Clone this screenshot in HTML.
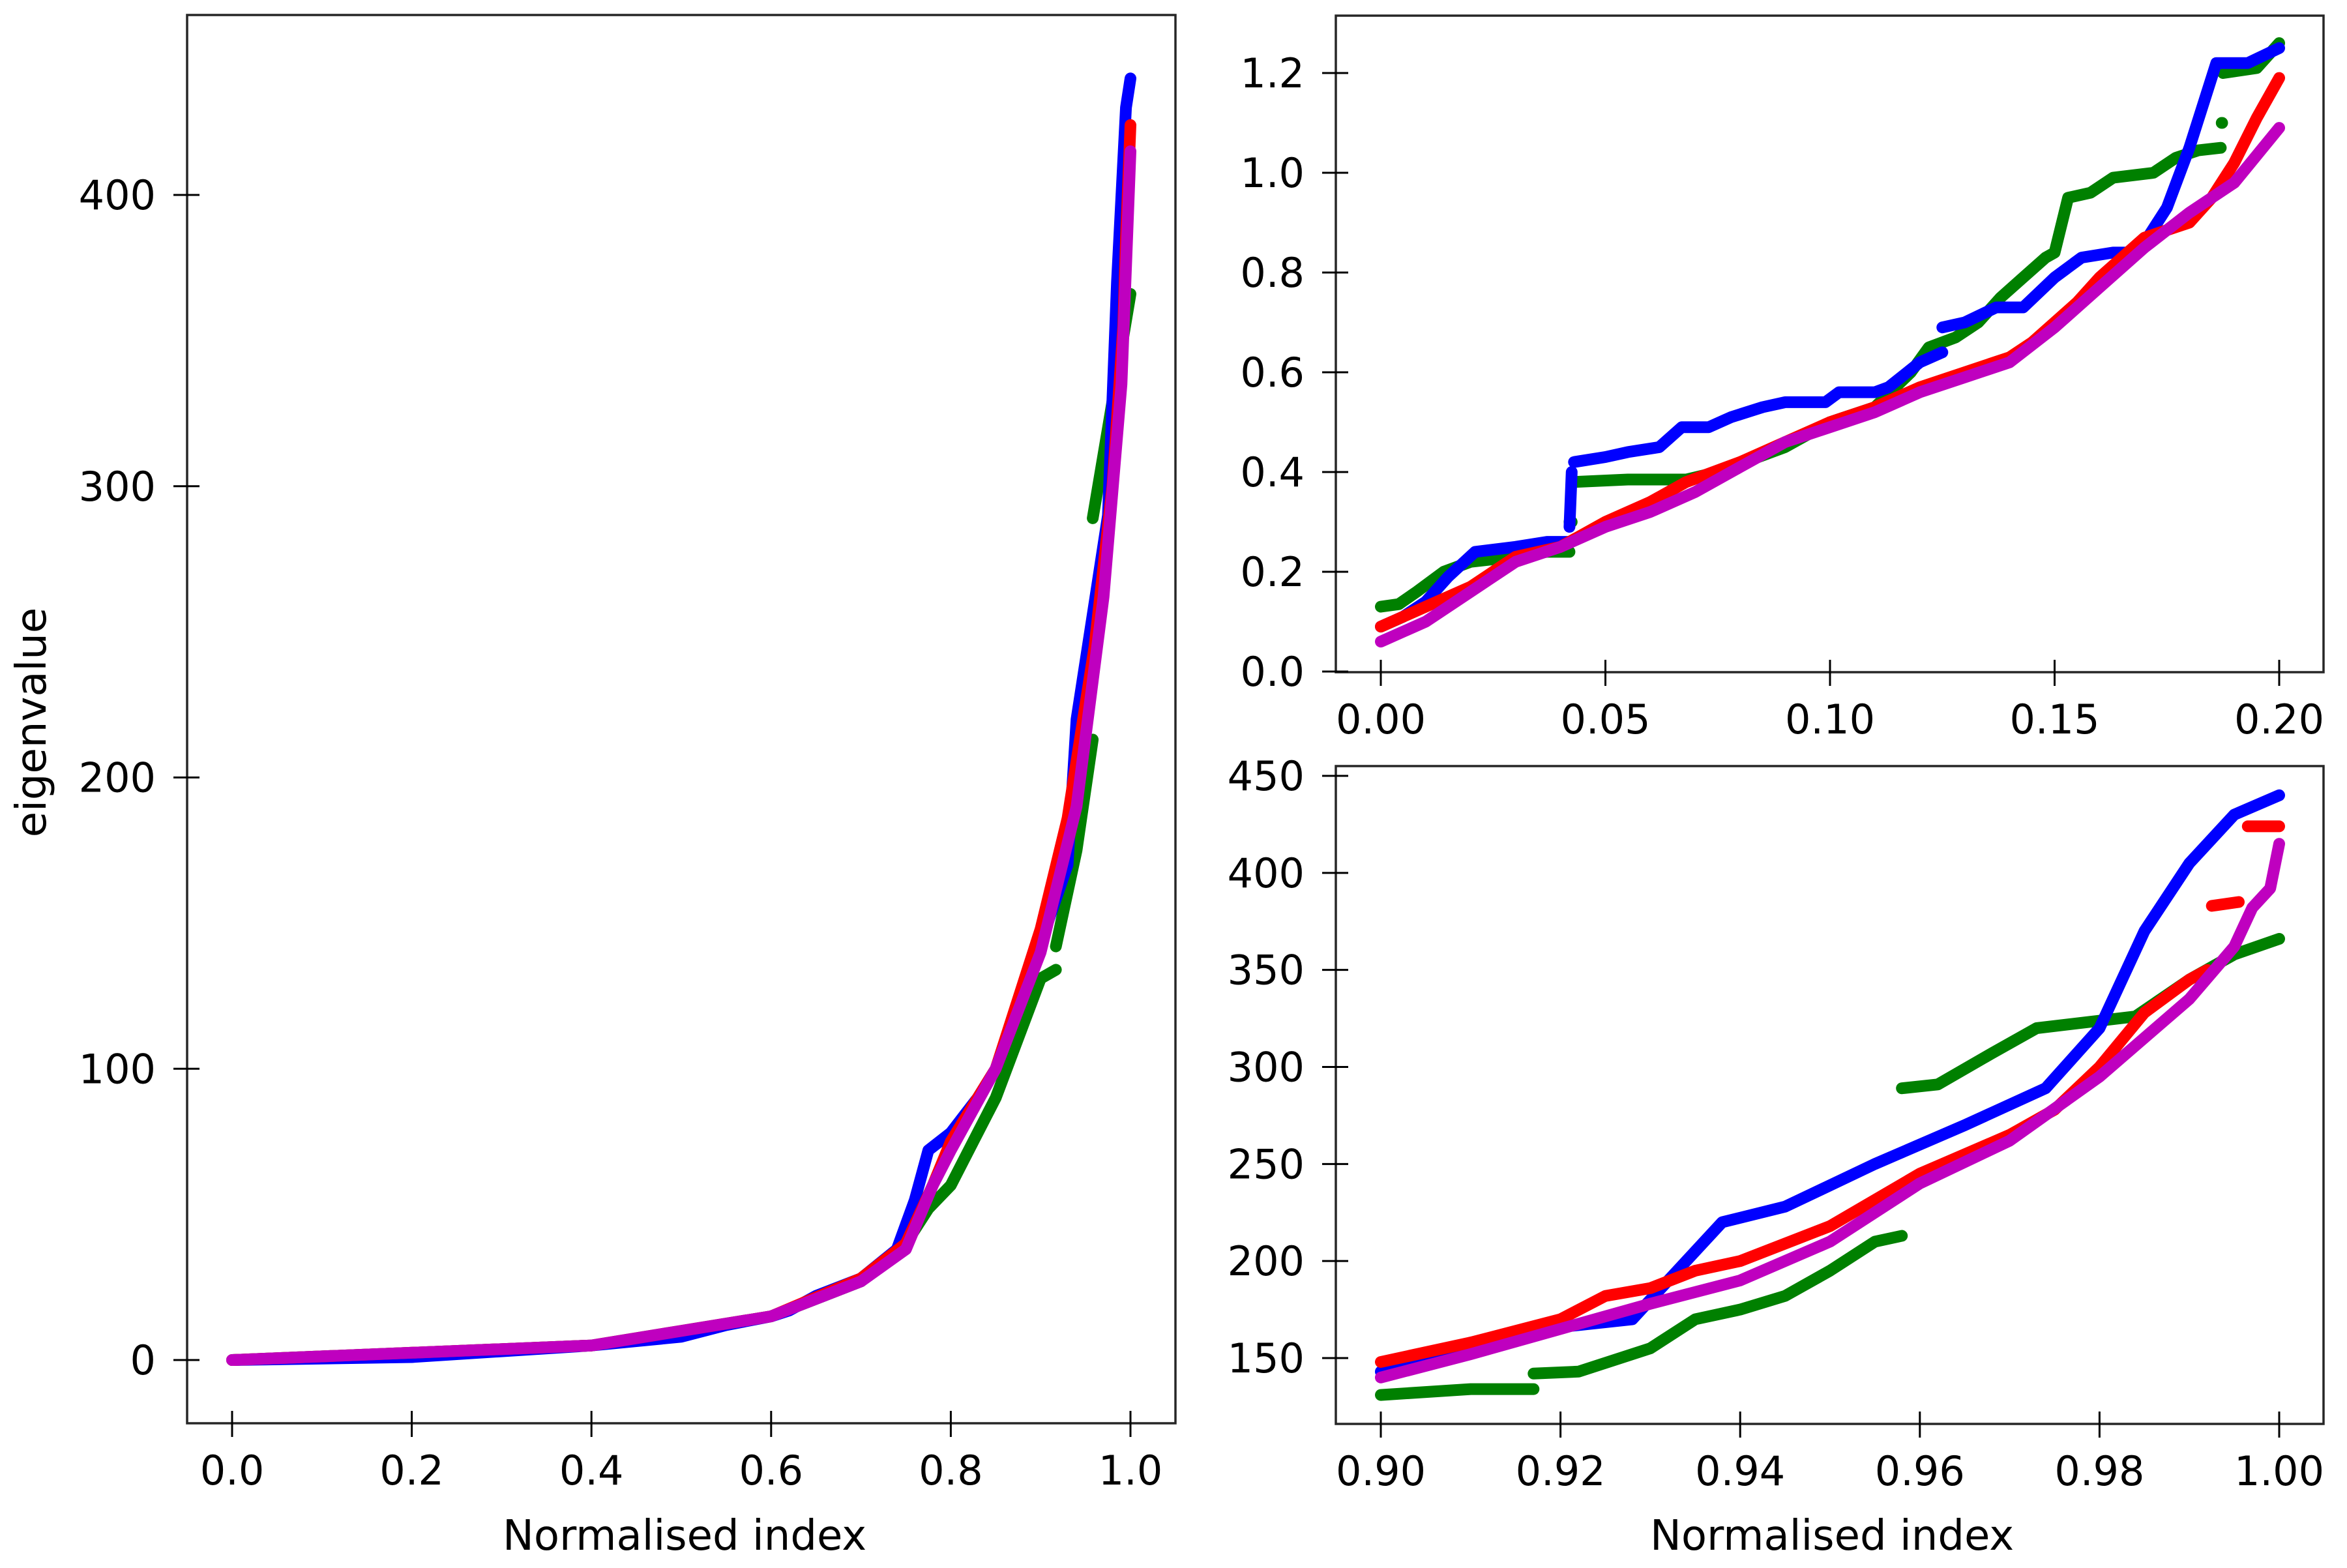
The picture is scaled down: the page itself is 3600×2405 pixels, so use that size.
<!DOCTYPE html>
<html><head><meta charset="utf-8"><style>
html,body{margin:0;padding:0;background:#fff;}
svg text{font-family:"DejaVu Sans","Liberation Sans",sans-serif;fill:#000;}
</style></head><body>
<svg id="chart" xmlns="http://www.w3.org/2000/svg" width="3600" height="2400" viewBox="0 0 3600 2400">
<rect x="0" y="0" width="3600" height="2400" fill="#fff"/>
<text x="0" y="0" font-size="64" text-anchor="middle" transform="translate(70,1108) rotate(-90)">eigenvalue</text>
<text x="1050" y="2377" font-size="64" text-anchor="middle">Normalised index</text>
<text x="2810" y="2377" font-size="64" text-anchor="middle">Normalised index</text>
</svg>
<script>
// ===== Data: left panel (full range) =====
const fullBlueX=[0,0.2,0.4,0.5,0.55,0.6,0.62,0.65,0.7,0.74,0.76,0.775,0.8,0.83,0.85,0.88,0.9,0.93,0.94,0.96,0.975,0.985,0.995,1.0];
const fullBlueY=[0,1,5,8,12,15,17,22,28,38,55,72,78,90,100,125,143,170,220,260,290,370,430,440];
const fullGreenX=[0,0.4,0.6,0.7,0.75,0.775,0.8,0.83,0.85,0.9,0.917,null,0.917,0.94,0.958,null,0.958,0.975,1.0];
const fullGreenY=[0,5,15,27,40,52,60,78,90,131,134,null,142,175,213,null,289,320,366];
const fullRedX=[0,0.4,0.6,0.7,0.75,0.78,0.8,0.85,0.9,0.93,0.96,0.98,0.992,0.995,1.0];
const fullRedY=[0,5,15,28,40,60,75,100,148,186,245,300,355,385,424];
const fullMagX=[0,0.4,0.6,0.7,0.75,0.78,0.8,0.85,0.9,0.94,0.97,0.99,1.0];
const fullMagY=[0,5,15,27,38,60,72,100,140,190,262,335,415];
const fullXTicks=[0,0.2,0.4,0.6,0.8,1.0];
const fullXTickLabels=["0.0","0.2","0.4","0.6","0.8","1.0"];
const fullYTicks=[0,100,200,300,400];
const fullYTickLabels=["0","100","200","300","400"];

// ===== Data: top-right panel (0 - 0.2) =====
const lowBlueX=[0,0.005,0.01,0.015,0.021,0.03,0.037,0.042,null,0.042,0.0425,null,0.043,0.05,0.055,0.062,0.067,0.073,0.078,0.085,0.09,0.099,0.102,0.11,0.113,0.12,0.125,null,0.125,0.13,0.137,0.143,0.15,0.156,0.163,0.167,0.17,0.175,0.18,0.186,0.193,0.2];
const lowBlueY=[0.09,0.11,0.14,0.19,0.24,0.25,0.26,0.26,null,0.29,0.40,null,0.42,0.43,0.44,0.45,0.49,0.49,0.51,0.53,0.54,0.54,0.56,0.56,0.57,0.62,0.64,null,0.69,0.70,0.73,0.73,0.79,0.83,0.84,0.84,0.86,0.93,1.05,1.22,1.22,1.25];
const lowGreenX=[0,0.004,0.008,0.014,0.02,0.03,0.037,0.042,null,0.042,0.0425,null,0.043,0.055,0.068,0.075,0.09,0.1,0.11,0.118,0.122,0.128,0.133,0.138,0.143,0.148,0.15,0.153,0.158,0.163,0.172,0.177,0.182,0.187,null,0.1872,0.1873,null,0.1875,0.195,0.2];
const lowGreenY=[0.13,0.135,0.16,0.20,0.22,0.23,0.24,0.24,null,0.30,0.30,null,0.38,0.385,0.385,0.40,0.45,0.50,0.53,0.60,0.65,0.67,0.70,0.75,0.79,0.83,0.84,0.95,0.96,0.99,1.00,1.03,1.045,1.05,null,1.10,1.10,null,1.20,1.21,1.26];
const lowRedX=[0,0.01,0.02,0.03,0.04,0.05,0.06,0.068,0.08,0.09,0.1,0.11,0.12,0.13,0.14,0.145,0.15,0.155,0.16,0.165,0.17,0.18,0.185,0.19,0.195,0.2];
const lowRedY=[0.09,0.13,0.17,0.23,0.25,0.30,0.34,0.38,0.42,0.46,0.50,0.53,0.57,0.60,0.63,0.66,0.70,0.74,0.79,0.83,0.87,0.90,0.95,1.02,1.11,1.19];
const lowMagX=[0,0.01,0.02,0.03,0.04,0.05,0.06,0.07,0.08,0.09,0.1,0.11,0.12,0.13,0.14,0.15,0.16,0.17,0.18,0.19,0.2];
const lowMagY=[0.06,0.10,0.16,0.22,0.25,0.29,0.32,0.36,0.41,0.46,0.49,0.52,0.56,0.59,0.62,0.69,0.77,0.85,0.92,0.98,1.09];
const lowXTicks=[0,0.05,0.1,0.15,0.2];
const lowXTickLabels=["0.00","0.05","0.10","0.15","0.20"];
const lowYTicks=[0,0.2,0.4,0.6,0.8,1.0,1.2];
const lowYTickLabels=["0.0","0.2","0.4","0.6","0.8","1.0","1.2"];

// ===== Data: bottom-right panel (0.9 - 1.0) =====
const highBlueX=[0.9,0.91,0.92,0.928,0.938,0.945,0.955,0.965,0.974,0.98,0.985,0.99,0.995,1.0];
const highBlueY=[143,158,166,170,220,228,250,270,289,320,370,405,430,440];
const highGreenX=[0.9,0.91,0.917,null,0.917,0.922,0.93,0.935,0.94,0.945,0.95,0.955,0.958,null,0.958,0.962,0.968,0.973,0.984,0.99,0.995,1.0];
const highGreenY=[131,134,134,null,142,143,155,170,175,182,195,210,213,null,289,291,307,320,326,345,358,366];
const highRedX=[0.9,0.91,0.92,0.925,0.93,0.935,0.94,0.95,0.96,0.97,0.975,0.98,0.985,0.99,0.992,null,0.9925,0.9955,null,0.9965,1.0];
const highRedY=[148,158,170,182,186,195,200,218,245,265,278,300,328,345,350,null,383,385,null,424,424];
const highMagX=[0.9,0.91,0.92,0.93,0.94,0.95,0.96,0.97,0.98,0.99,0.995,0.997,0.999,1.0];
const highMagY=[140,152,165,178,190,210,240,262,295,335,362,382,392,415];
const highXTicks=[0.9,0.92,0.94,0.96,0.98,1.0];
const highXTickLabels=["0.90","0.92","0.94","0.96","0.98","1.00"];
const highYTicks=[150,200,250,300,350,400,450];
const highYTickLabels=["150","200","250","300","350","400","450"];

const NS="http://www.w3.org/2000/svg";
const svg=document.getElementById('chart');
function mk(tag,attrs,parent){const e=document.createElementNS(NS,tag);for(const k in attrs)e.setAttribute(k,attrs[k]);(parent||svg).appendChild(e);return e;}

function panel(name,box,xdom,xpx,ydom,ypx,xt,xtl,yt,ytl,series){
  const sx=v=>xpx[0]+(v-xdom[0])/(xdom[1]-xdom[0])*(xpx[1]-xpx[0]);
  const sy=v=>ypx[0]+(v-ydom[0])/(ydom[1]-ydom[0])*(ypx[1]-ypx[0]);
  const g=mk('g',{});
  
  
  const clip=mk('clipPath',{id:name+'-clip'},g);
  mk('rect',{x:box[0],y:box[1],width:box[2]-box[0],height:box[3]-box[1]},clip);
  const plot=mk('g',{'clip-path':'url(#'+name+'-clip)'},g);
  series.forEach(s=>{
    let segs=[],cur=[];
    for(let i=0;i<s.x.length;i++){
      if(s.x[i]===null){if(cur.length)segs.push(cur);cur=[];continue;}
      cur.push(sx(s.x[i]).toFixed(1)+','+sy(s.y[i]).toFixed(1));
    }
    if(cur.length)segs.push(cur);
    segs.forEach(seg=>{
      const d='M'+seg.join(' L')+(seg.length===1?' l0.1,0':'');
      const p=mk('path',{d:d,fill:'none',stroke:s.c,'stroke-width':18,'stroke-linecap':'round','stroke-linejoin':'round'},plot);
      
      
    });
  });
  const fr=mk('rect',{x:box[0],y:box[1],width:box[2]-box[0],height:box[3]-box[1],fill:'none',stroke:'#262626','stroke-width':3.5},g);
  
  
  xt.forEach((v,i)=>{
    const x=sx(v);
    const t=mk('line',{x1:x,x2:x,y1:box[3]-19,y2:box[3]+21,stroke:'#000','stroke-width':3},g);
    
    
    const l=mk('text',{x:x,y:box[3]+94,'font-size':62,'text-anchor':'middle'},g);
    l.textContent=xtl[i];
    
    
  });
  yt.forEach((v,i)=>{
    const y=sy(v);
    const t=mk('line',{x1:box[0]-21,x2:box[0]+19,y1:y,y2:y,stroke:'#000','stroke-width':3},g);
    
    
    const l=mk('text',{x:box[0]-48,y:y+22,'font-size':62,'text-anchor':'end'},g);
    l.textContent=ytl[i];
    
    
  });
}
panel('full-range-panel',[287,23,1803,2183],[0,1],[356,1734],[0,400],[2086,299],fullXTicks,fullXTickLabels,fullYTicks,fullYTickLabels,[
 {x:fullGreenX,y:fullGreenY,c:'#008000',n:'green-series'},
 {x:fullBlueX,y:fullBlueY,c:'#0000ff',n:'blue-series'},
 {x:fullRedX,y:fullRedY,c:'#ff0000',n:'red-series'},
 {x:fullMagX,y:fullMagY,c:'#bf00bf',n:'magenta-series'}]);
panel('low-range-panel',[2049,24,3564,1031],[0,0.2],[2118,3496],[0,1.2],[1030,112],lowXTicks,lowXTickLabels,lowYTicks,lowYTickLabels,[
 {x:lowGreenX,y:lowGreenY,c:'#008000',n:'green-series'},
 {x:lowBlueX,y:lowBlueY,c:'#0000ff',n:'blue-series'},
 {x:lowRedX,y:lowRedY,c:'#ff0000',n:'red-series'},
 {x:lowMagX,y:lowMagY,c:'#bf00bf',n:'magenta-series'}]);
panel('high-range-panel',[2049,1175,3564,2184],[0.9,1.0],[2118,3496],[150,450],[2083,1190],highXTicks,highXTickLabels,highYTicks,highYTickLabels,[
 {x:highGreenX,y:highGreenY,c:'#008000',n:'green-series'},
 {x:highBlueX,y:highBlueY,c:'#0000ff',n:'blue-series'},
 {x:highRedX,y:highRedY,c:'#ff0000',n:'red-series'},
 {x:highMagX,y:highMagY,c:'#bf00bf',n:'magenta-series'}]);
</script>
</body></html>
